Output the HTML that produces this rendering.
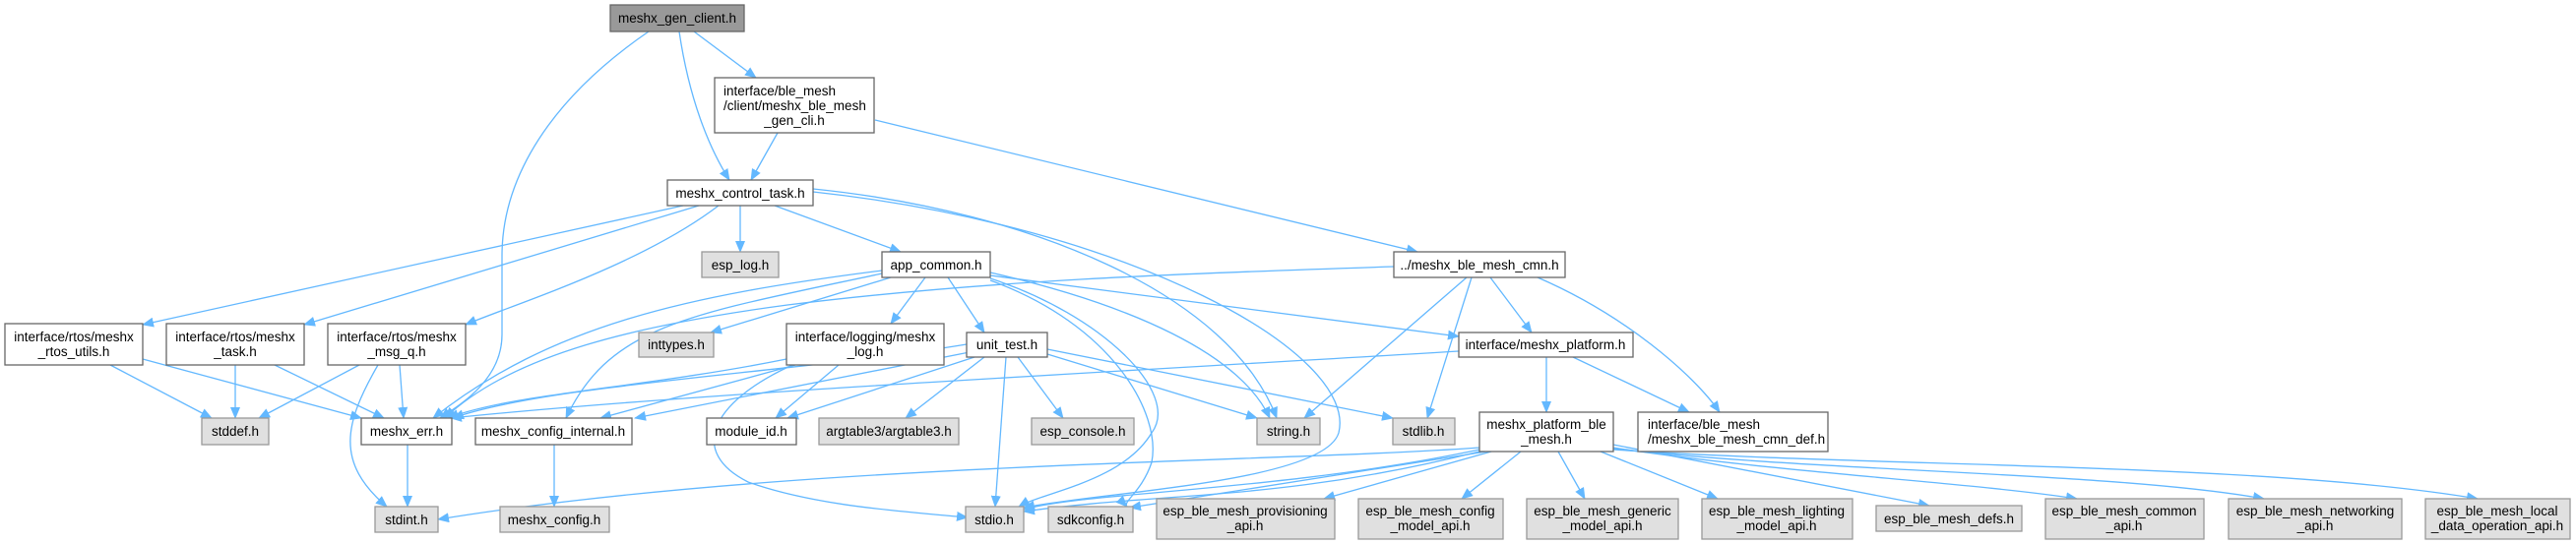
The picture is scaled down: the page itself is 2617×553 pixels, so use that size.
<!DOCTYPE html>
<html><head><meta charset="utf-8"><style>
html,body{margin:0;padding:0;background:#fff;}
svg{display:block;}
text{font-family:"Liberation Sans",Arial,sans-serif;font-size:13.5px;fill:#000;}
.w{fill:#fff;stroke:#666;stroke-width:1.3;}
.g{fill:#e0e0e0;stroke:#999;stroke-width:1.3;}
.r{fill:#999;stroke:#666;stroke-width:1.3;}
path{fill:none;stroke:#63b8ff;stroke-width:1.3;}
</style></head><body>
<svg width="2617" height="553" viewBox="0 0 2617 553" xmlns="http://www.w3.org/2000/svg">
<defs><marker id="a" markerUnits="userSpaceOnUse" markerWidth="12" markerHeight="10" refX="11" refY="5" orient="auto"><polygon points="0,0 12,5 0,10" fill="#63b8ff"/></marker></defs>
<g marker-end="url(#a)">
<path d="M659,32 C560,100 510,180 510,260 L510,340 C510,385 470,410 447,425"/>
<path d="M690,32 C700,100 720,150 741,183"/>
<path d="M705,32 L768,79"/>
<path d="M790,135 L763,183"/>
<path d="M889,122 L1440,256"/>
<path d="M752,209 L752,256"/>
<path d="M787,209 L915,256"/>
<path d="M826,192 C1050,215 1250,300 1297,425"/>
<path d="M826,195 C1150,230 1380,360 1360,440 C1345,490 1120,500 1040,516"/>
<path d="M694,209 L145,330"/>
<path d="M710,209 L309,330"/>
<path d="M730,209 C650,270 520,310 473,330"/>
<path d="M112,371 L215,425"/>
<path d="M145,365 L367,425"/>
<path d="M239,371 L239,425"/>
<path d="M279,371 L390,425"/>
<path d="M365,371 L263,425"/>
<path d="M406,371 L410,425"/>
<path d="M384,371 C350,430 340,470 393,515"/>
<path d="M414,452 L414,515"/>
<path d="M563,452 L563,515"/>
<path d="M896,275 C700,300 560,330 440,425"/>
<path d="M896,278 C700,320 620,330 575,425"/>
<path d="M905,282 L722,338"/>
<path d="M940,282 L905,329"/>
<path d="M963,282 L1000,338"/>
<path d="M1006,280 L1482,342"/>
<path d="M1006,277 C1150,310 1260,360 1290,425"/>
<path d="M1006,283 C1120,320 1200,400 1170,440 C1140,490 1060,500 1035,515"/>
<path d="M1006,285 C1130,330 1180,420 1170,470 C1160,500 1140,510 1145,515"/>
<path d="M1416,271 C1200,278 1000,285 800,310 C650,330 520,360 452,425"/>
<path d="M1490,282 L1325,425"/>
<path d="M1495,282 L1450,425"/>
<path d="M1514,282 L1556,338"/>
<path d="M1562,282 C1650,320 1720,380 1747,419"/>
<path d="M799,365 C650,395 520,400 455,425"/>
<path d="M808,371 L610,425"/>
<path d="M852,371 L788,425"/>
<path d="M805,371 C720,410 700,460 760,490 C830,515 920,520 983,526"/>
<path d="M982,350 C800,380 560,390 460,425"/>
<path d="M985,358 L645,425"/>
<path d="M990,363 L800,425"/>
<path d="M1000,363 L920,425"/>
<path d="M1034,363 L1080,425"/>
<path d="M1064,360 L1277,425"/>
<path d="M1064,355 L1415,425"/>
<path d="M1022,363 L1011,515"/>
<path d="M1482,357 C1100,380 700,400 458,425"/>
<path d="M1571,363 L1571,419"/>
<path d="M1598,363 L1716,419"/>
<path d="M1503,455 C1300,470 800,470 445,528"/>
<path d="M1503,457 C1300,500 1100,500 1040,518"/>
<path d="M1503,459 C1300,510 1180,500 1040,520"/>
<path d="M1510,459 L1148,516"/>
<path d="M1515,459 L1345,507"/>
<path d="M1545,459 L1485,507"/>
<path d="M1583,459 L1610,507"/>
<path d="M1626,459 L1745,507"/>
<path d="M1639,452 L1960,514"/>
<path d="M1639,455 C1800,480 2000,490 2110,507"/>
<path d="M1639,456 C1850,480 2150,480 2300,507"/>
<path d="M1639,457 C1900,475 2300,470 2517,507"/>
</g>
<rect class="r" x="620" y="5" width="136" height="27"/><text x="688" y="23" text-anchor="middle">meshx_gen_client.h</text>
<rect class="w" x="726" y="79" width="162" height="56"/><text x="735" y="97">interface/ble_mesh</text><text x="735" y="112">/client/meshx_ble_mesh</text><text x="807" y="127" text-anchor="middle">_gen_cli.h</text>
<rect class="w" x="678" y="183" width="148" height="26"/><text x="752" y="201" text-anchor="middle">meshx_control_task.h</text>
<rect class="g" x="713" y="256" width="78" height="26"/><text x="752" y="274" text-anchor="middle">esp_log.h</text>
<rect class="w" x="896" y="256" width="110" height="26"/><text x="951" y="274" text-anchor="middle">app_common.h</text>
<rect class="w" x="1416" y="256" width="174" height="26"/><text x="1503" y="274" text-anchor="middle">../meshx_ble_mesh_cmn.h</text>
<rect class="w" x="5" y="329" width="140" height="42"/><text x="75" y="347" text-anchor="middle">interface/rtos/meshx</text><text x="75" y="362" text-anchor="middle">_rtos_utils.h</text>
<rect class="w" x="169" y="329" width="140" height="42"/><text x="239" y="347" text-anchor="middle">interface/rtos/meshx</text><text x="239" y="362" text-anchor="middle">_task.h</text>
<rect class="w" x="333" y="329" width="140" height="42"/><text x="403" y="347" text-anchor="middle">interface/rtos/meshx</text><text x="403" y="362" text-anchor="middle">_msg_q.h</text>
<rect class="g" x="649" y="338" width="76" height="25"/><text x="687" y="355" text-anchor="middle">inttypes.h</text>
<rect class="w" x="799" y="329" width="160" height="42"/><text x="879" y="347" text-anchor="middle">interface/logging/meshx</text><text x="879" y="362" text-anchor="middle">_log.h</text>
<rect class="w" x="982" y="338" width="82" height="25"/><text x="1023" y="355" text-anchor="middle">unit_test.h</text>
<rect class="w" x="1482" y="338" width="177" height="25"/><text x="1570" y="355" text-anchor="middle">interface/meshx_platform.h</text>
<rect class="g" x="205" y="425" width="68" height="27"/><text x="239" y="443" text-anchor="middle">stddef.h</text>
<rect class="w" x="367" y="425" width="92" height="27"/><text x="413" y="443" text-anchor="middle">meshx_err.h</text>
<rect class="w" x="483" y="425" width="159" height="27"/><text x="562" y="443" text-anchor="middle">meshx_config_internal.h</text>
<rect class="w" x="718" y="425" width="91" height="27"/><text x="763" y="443" text-anchor="middle">module_id.h</text>
<rect class="g" x="832" y="425" width="142" height="27"/><text x="903" y="443" text-anchor="middle">argtable3/argtable3.h</text>
<rect class="g" x="1048" y="425" width="104" height="27"/><text x="1100" y="443" text-anchor="middle">esp_console.h</text>
<rect class="g" x="1277" y="425" width="64" height="27"/><text x="1309" y="443" text-anchor="middle">string.h</text>
<rect class="g" x="1415" y="425" width="63" height="27"/><text x="1446" y="443" text-anchor="middle">stdlib.h</text>
<rect class="w" x="1503" y="419" width="136" height="40"/><text x="1571" y="436" text-anchor="middle">meshx_platform_ble</text><text x="1571" y="451" text-anchor="middle">_mesh.h</text>
<rect class="w" x="1664" y="419" width="193" height="40"/><text x="1674" y="436">interface/ble_mesh</text><text x="1674" y="451">/meshx_ble_mesh_cmn_def.h</text>
<rect class="g" x="381" y="515" width="64" height="26"/><text x="413" y="533" text-anchor="middle">stdint.h</text>
<rect class="g" x="508" y="515" width="111" height="26"/><text x="563" y="533" text-anchor="middle">meshx_config.h</text>
<rect class="g" x="981" y="515" width="59" height="26"/><text x="1010" y="533" text-anchor="middle">stdio.h</text>
<rect class="g" x="1065" y="515" width="86" height="26"/><text x="1108" y="533" text-anchor="middle">sdkconfig.h</text>
<rect class="g" x="1175" y="507" width="181" height="41"/><text x="1265" y="524" text-anchor="middle">esp_ble_mesh_provisioning</text><text x="1265" y="539" text-anchor="middle">_api.h</text>
<rect class="g" x="1380" y="507" width="147" height="41"/><text x="1453" y="524" text-anchor="middle">esp_ble_mesh_config</text><text x="1453" y="539" text-anchor="middle">_model_api.h</text>
<rect class="g" x="1551" y="507" width="154" height="41"/><text x="1628" y="524" text-anchor="middle">esp_ble_mesh_generic</text><text x="1628" y="539" text-anchor="middle">_model_api.h</text>
<rect class="g" x="1729" y="507" width="153" height="41"/><text x="1805" y="524" text-anchor="middle">esp_ble_mesh_lighting</text><text x="1805" y="539" text-anchor="middle">_model_api.h</text>
<rect class="g" x="1906" y="514" width="148" height="26"/><text x="1980" y="532" text-anchor="middle">esp_ble_mesh_defs.h</text>
<rect class="g" x="2078" y="507" width="161" height="41"/><text x="2158" y="524" text-anchor="middle">esp_ble_mesh_common</text><text x="2158" y="539" text-anchor="middle">_api.h</text>
<rect class="g" x="2264" y="507" width="176" height="41"/><text x="2352" y="524" text-anchor="middle">esp_ble_mesh_networking</text><text x="2352" y="539" text-anchor="middle">_api.h</text>
<rect class="g" x="2464" y="507" width="147" height="41"/><text x="2537" y="524" text-anchor="middle">esp_ble_mesh_local</text><text x="2537" y="539" text-anchor="middle">_data_operation_api.h</text>
</svg>
</body></html>
